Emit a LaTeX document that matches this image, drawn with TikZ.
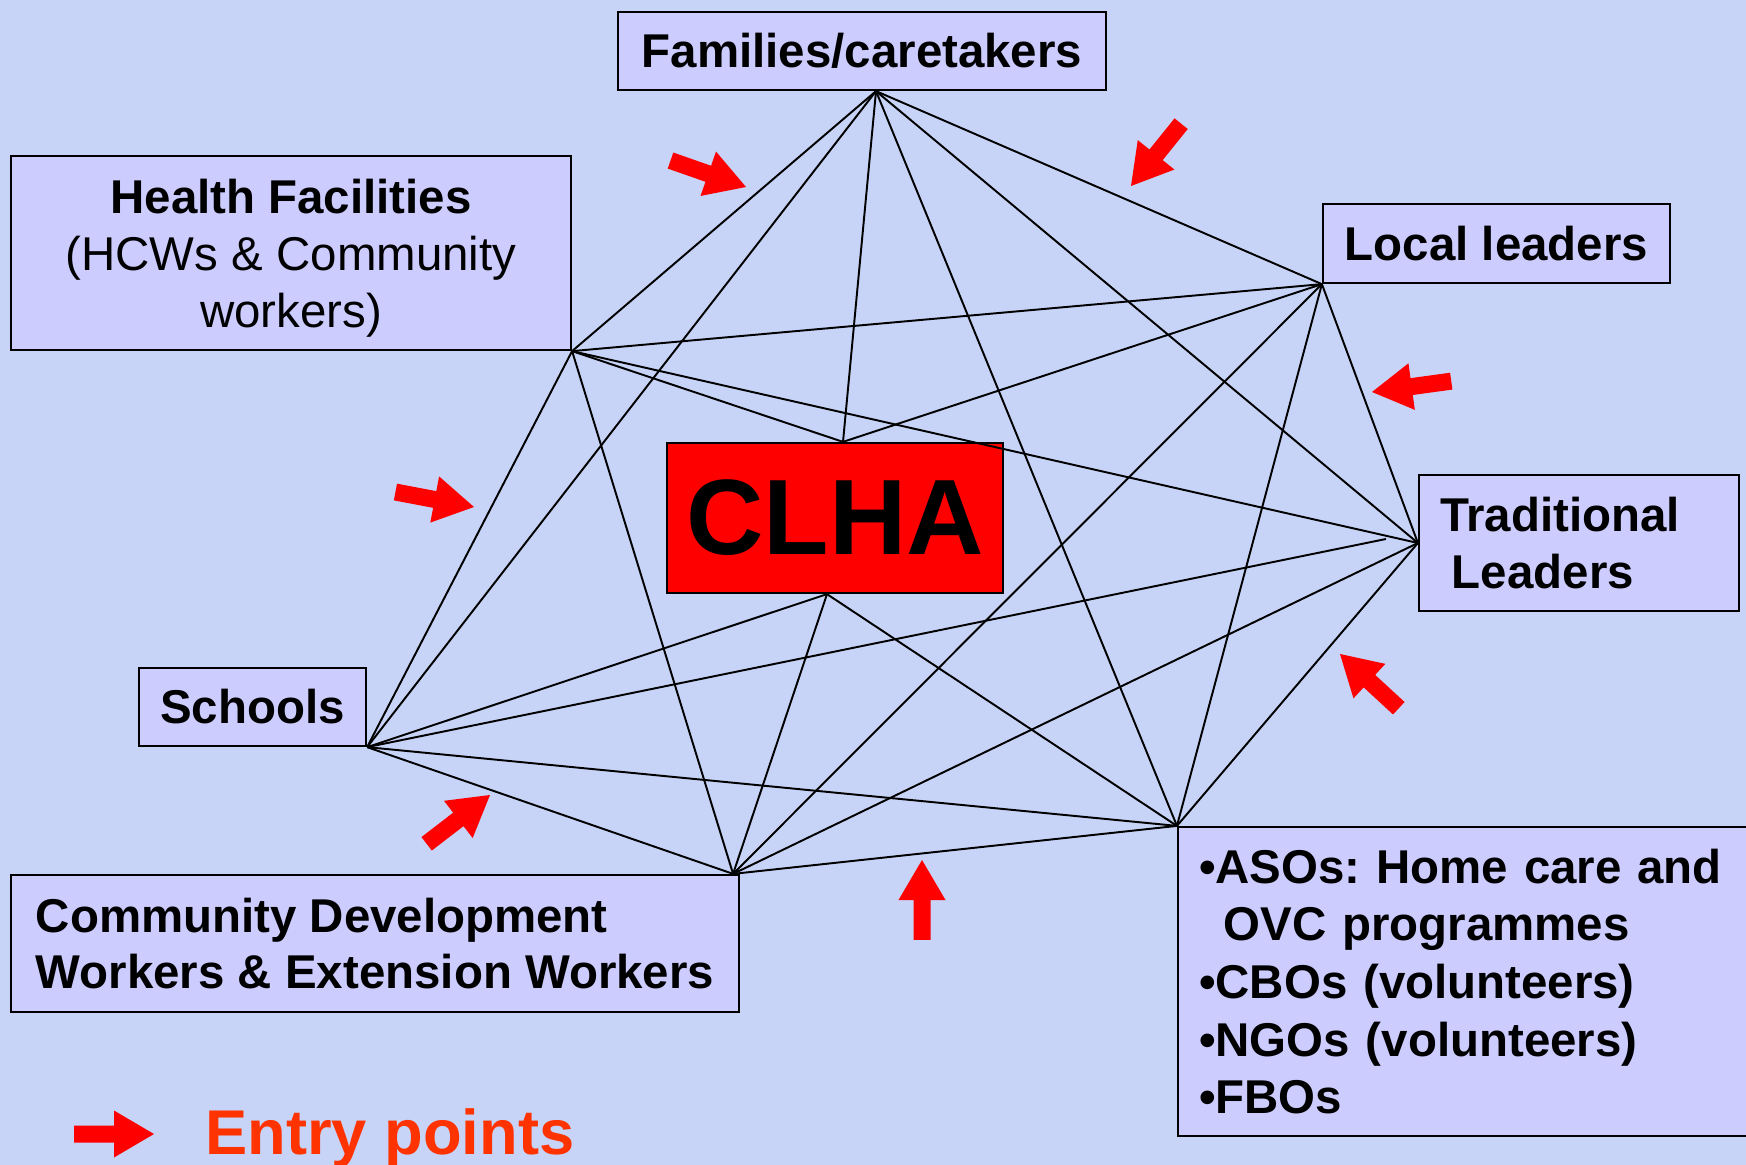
\documentclass[tikz,border=0pt]{standalone}
\usepackage{fontspec}
\setmainfont{Liberation Sans}
\usetikzlibrary{calc}
\frenchspacing
\definecolor{bgcol}{RGB}{199,212,247}
\definecolor{boxfill}{RGB}{204,204,255}
\definecolor{entryred}{RGB}{255,0,0}
\definecolor{legendred}{RGB}{255,51,0}
\begin{document}
\begin{tikzpicture}[x=0.02cm, y=-0.02cm,
  box/.style={draw=black, line width=1.3pt, fill=boxfill, inner sep=0pt,
    font=\fontsize{27}{32.4}\selectfont\bfseries},
  link/.style={black, line width=1.1pt},
  pics/entry/.style={code={
    \fill[entryred] (0,0) -- (-0.8cm,0.47cm) -- (-0.8cm,0.17cm) -- (-1.6cm,0.17cm)
      -- (-1.6cm,-0.17cm) -- (-0.8cm,-0.17cm) -- (-0.8cm,-0.47cm) -- cycle;}}]

% canvas
\clip (0,0) rectangle (1746,1165);
\fill[bgcol] (0,0) rectangle (1746,1165);

% actors
\node[box, minimum width=9.76cm, minimum height=1.56cm] (fam) at (862,51) {Families/caretakers};
\node[box, minimum width=11.2cm, minimum height=3.88cm, align=center] (hf) at (291,253)
  {\rule{0pt}{25.5pt}Health Facilities\\\mdseries(HCWs \& Community\\\mdseries workers)};
\node[box, minimum width=6.94cm, minimum height=1.58cm] (ll) at (1496.5,243.5) {Local leaders};
\node[box, minimum height=2.72cm, text width=5.56cm, inner xsep=0.42cm, align=left] (tl) at (1579,543)
  {Traditional\\\hspace*{0.25em}Leaders};
\node[box, fill=red, minimum width=6.72cm, minimum height=3cm,
  font=\fontsize{61}{70}\selectfont\bfseries] (clha) at (835,518) {CLHA};
\node[box, minimum width=4.54cm, minimum height=1.56cm] (sch) at (252.5,707) {Schools};
\node[box, minimum width=14.56cm, minimum height=2.74cm, align=left] (cd) at (375,943.5)
  {Community Development\\Workers \& Extension Workers};
\node[box, minimum height=6.18cm, text width=11.6cm, inner xsep=0.42cm, align=left,
  font=\fontsize{27}{32.8}\selectfont\bfseries] (aso) at (1489,981.5)
  {•ASOs: Home care and\\\hspace*{0.52em}OVC programmes\\•CBOs (volunteers)\\•NGOs (volunteers)\\•FBOs};

% attachment points
\coordinate (famhub) at ($(fam.south)+(14,0)$);
\coordinate (ctop) at ($(clha.north)+(8,0)$);
\coordinate (cbot) at ($(clha.south)+(-8,0)$);
\coordinate (cdhub) at ($(cd.north east)+(-7,0)$);
\coordinate (tlshort) at ($(tl.west)+(-32,-4)$);

% web of links
\draw[link] (famhub) -- (hf.south east);
\draw[link] (famhub) -- (sch.south east);
\draw[link] (famhub) -- (ctop);
\draw[link] (famhub) -- (aso.north west);
\draw[link] (famhub) -- (ll.south west);
\draw[link] (famhub) -- (tl.west);
\draw[link] (hf.south east) -- (ll.south west);
\draw[link] (hf.south east) -- (ctop);
\draw[link] (hf.south east) -- (tl.west);
\draw[link] (hf.south east) -- (cdhub);
\draw[link] (hf.south east) -- (sch.south east);
\draw[link] (ll.south west) -- (ctop);
\draw[link] (ll.south west) -- (cdhub);
\draw[link] (ll.south west) -- (aso.north west);
\draw[link] (ll.south west) -- (tl.west);
\draw[link] (sch.south east) -- (tlshort);
\draw[link] (tl.west) -- (cdhub);
\draw[link] (tl.west) -- (aso.north west);
\draw[link] (sch.south east) -- (cbot);
\draw[link] (sch.south east) -- (cdhub);
\draw[link] (sch.south east) -- (aso.north west);
\draw[link] (cbot) -- (cdhub);
\draw[link] (cbot) -- (aso.north west);
\draw[link] (cdhub) -- (aso.north west);

% entry points
\pic[rotate=-19.3] at (746,187) {entry};
\pic[rotate=-128.8] at (1131,186) {entry};
\pic[rotate=-172.2] at (1372,392) {entry};
\pic[rotate=137.3] at (1340,654) {entry};
\pic[rotate=90] at (922,860) {entry};
\pic[rotate=37.6] at (490,795) {entry};
\pic[rotate=-10.8] at (474,507) {entry};

% legend
\pic at (154,1134) {entry};
\node[anchor=base west, inner sep=0pt, text=legendred,
  font=\fontsize{36}{40}\selectfont\bfseries] (legend) at (205,1154) {Entry points};
\end{tikzpicture}
\end{document}
